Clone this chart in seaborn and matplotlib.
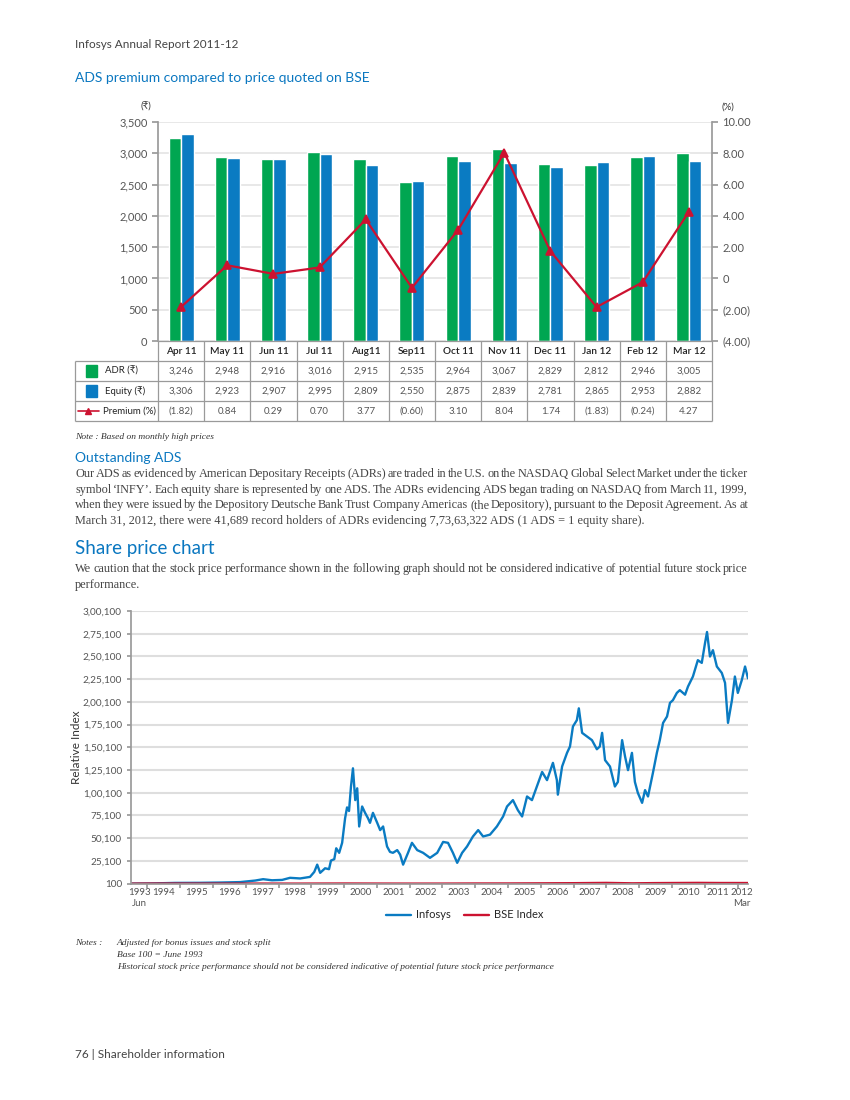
import matplotlib
matplotlib.use('Agg')
import matplotlib.pyplot as plt
import seaborn as sns
import pandas as pd
import numpy as np
from matplotlib.patches import Rectangle

# ADS premium table (monthly high prices)
months = ['Apr 11', 'May 11', 'Jun 11', 'Jul 11', 'Aug11', 'Sep11',
          'Oct 11', 'Nov 11', 'Dec 11', 'Jan 12', 'Feb 12', 'Mar 12']
adr = [3246, 2948, 2916, 3016, 2915, 2535, 2964, 3067, 2829, 2812, 2946, 3005]
equity = [3306, 2923, 2907, 2995, 2809, 2550, 2875, 2839, 2781, 2865, 2953, 2882]
premium = [-1.82, 0.84, 0.29, 0.70, 3.77, -0.60, 3.10, 8.04, 1.74, -1.83, -0.24, 4.27]

# share price chart (relative index, base 100 = June 1993)
infy_year = [1993.51, 1994.09, 1994.85, 1995.61, 1996.22, 1996.83, 1997.29, 1997.53, 1997.80,
             1998.11, 1998.35, 1998.66, 1998.96, 1999.09, 1999.18, 1999.27, 1999.42, 1999.54,
             1999.60, 1999.70, 1999.76, 1999.85, 1999.94, 2000.03, 2000.09, 2000.15, 2000.21,
             2000.27, 2000.34, 2000.40, 2000.46, 2000.55, 2000.64, 2000.73, 2000.79, 2000.88,
             2001.01, 2001.10, 2001.19, 2001.31, 2001.40, 2001.49, 2001.62, 2001.71, 2001.80,
             2001.95, 2002.07, 2002.23, 2002.41, 2002.62, 2002.84, 2003.02, 2003.17, 2003.32,
             2003.45, 2003.60, 2003.75, 2003.93, 2004.09, 2004.24, 2004.45, 2004.66, 2004.85,
             2004.97, 2005.15, 2005.30, 2005.43, 2005.58, 2005.73, 2005.88, 2006.04, 2006.19,
             2006.37, 2006.49, 2006.52, 2006.65, 2006.80, 2006.89, 2006.98, 2007.10, 2007.16,
             2007.26, 2007.41, 2007.56, 2007.71, 2007.80, 2007.87, 2007.96, 2008.11, 2008.26,
             2008.35, 2008.48, 2008.57, 2008.66, 2008.78, 2008.87, 2008.96, 2009.09, 2009.18,
             2009.27, 2009.42, 2009.54, 2009.63, 2009.73, 2009.85, 2009.94, 2010.03, 2010.15,
             2010.24, 2010.40, 2010.49, 2010.64, 2010.79, 2010.91, 2011.01, 2011.07, 2011.16,
             2011.25, 2011.37, 2011.52, 2011.62, 2011.71, 2011.83, 2011.92, 2012.01, 2012.13,
             2012.23, 2012.32]
infy_index = [100, 300, 900, 1000, 1300, 1800, 3500, 5000, 3800,
              4200, 6500, 5800, 7500, 13000, 21000, 12000, 17000, 16000,
              25500, 27000, 39000, 34000, 45000, 72000, 84000, 80000, 107000,
              127000, 92000, 105000, 63000, 85000, 78000, 72000, 67000, 78000,
              67000, 59000, 63000, 41000, 35000, 34000, 37000, 32000, 21000,
              34000, 45000, 37000, 34000, 28500, 34000, 46000, 45000, 34000,
              23000, 34000, 41000, 52000, 59000, 52000, 54000, 63000, 74000,
              85000, 92000, 81000, 74000, 96000, 92000, 107000, 123000, 114000,
              133000, 114000, 98000, 129000, 144000, 151000, 173000, 180000, 193000,
              166000, 162000, 158000, 148000, 151000, 166000, 136000, 129000, 107000,
              112000, 158000, 140000, 125000, 144000, 112000, 100000, 89000, 103000,
              96000, 122000, 144000, 158000, 177000, 184000, 199000, 202000, 210000,
              213000, 208000, 217000, 228000, 246000, 243000, 265000, 277000, 250000,
              257000, 239000, 232000, 221000, 177000, 202000, 228000, 210000, 224000,
              239000, 226000]
bse_year = [1993.51, 1994.0, 1994.7, 1995.5, 1996.5, 1997.5, 1998.5, 1999.5, 2000.1, 2001.0,
            2002.0, 2003.0, 2004.0, 2005.0, 2006.0, 2007.0, 2008.0, 2008.8, 2009.5, 2010.8,
            2011.5, 2012.32]
bse_index = [100, 170, 200, 150, 150, 180, 140, 210, 260, 180,
             150, 160, 270, 290, 430, 600, 930, 440, 700, 940,
             800, 790]

year_labels = ['1993\nJun'] + [str(y) for y in range(1994, 2012)] + ['2012\nMar']

GREEN = '#00a651'
BLUE = '#0a7bc2'
RED = '#cc1230'
HEAD = '#0a77c0'
GREY = '#555555'
LINE = '#9a9a9a'
W, H = 850, 1100

sns.set_theme(style='white')
plt.rcParams['font.family'] = ['Lato', 'DejaVu Sans']
SERIF = ['Liberation Serif', 'DejaVu Serif']


def box(l, t, r, b):
    return [l / W, 1 - b / H, (r - l) / W, (b - t) / H]


def put(x, y, s, **kw):
    return fig.text(x / W, 1 - y / H, s, **kw)


def indian(v):
    s = str(int(v))
    if len(s) <= 3:
        return s
    head, tail = s[:-3], s[-3:]
    parts = []
    while len(head) > 2:
        parts.insert(0, head[-2:])
        head = head[:-2]
    parts.insert(0, head)
    return ','.join(parts) + ',' + tail


def pct(v):
    if v == 0:
        return '0'
    return f'{v:.2f}' if v > 0 else f'({-v:.2f})'


def justified(lines, x0, x1, y0, step, **kw):
    r = fig.canvas.get_renderer()
    for n, line in enumerate(lines):
        y = y0 + n * step
        if n == len(lines) - 1:
            put(x0, y, line, va='center', **kw)
            continue
        words = line.split(' ')
        arts = [put(0, y, w, va='center', **kw) for w in words]
        widths = [a.get_window_extent(r).width for a in arts]
        gap = (x1 - x0 - sum(widths)) / (len(words) - 1)
        x = x0
        for a, wd in zip(arts, widths):
            a.set_x(x / W)
            x += wd + gap


fig = plt.figure(figsize=(8.5, 11), dpi=100)

# page texts
put(75, 45, 'Infosys Annual Report 2011-12', fontsize=8.5, color='#444', va='center')
put(75, 78, 'ADS premium compared to price quoted on BSE', fontsize=10, color=HEAD, va='center')
put(151, 107, '(₹)', fontsize=7, color='#333', va='center', ha='right')
put(722, 107, '(%)', fontsize=7, color='#333', va='center')

# bar chart with premium line
ax = fig.add_axes(box(158, 122, 712, 341))
df_bar = pd.DataFrame({'month': months * 2, 'value': adr + equity,
                       'series': ['ADR'] * len(adr) + ['Equity'] * len(equity)})
sns.barplot(data=df_bar, x='month', y='value', hue='series', palette=[GREEN, BLUE],
            width=0.54, gap=0, saturation=1, legend=False, ax=ax)
ax.set_xlim(-0.5, len(months) - 0.5)
ax.set_ylim(0, 3500)
ax.set_yticks(range(0, 3501, 500))
ax.set_yticklabels([f'{v:,}' for v in range(0, 3501, 500)])
ax.yaxis.grid(True, color='#e4e4e4', lw=1.2)
ax.set_axisbelow(True)
ax.set_xlabel('')
ax.set_ylabel('')
ax.tick_params(axis='x', bottom=False, labelbottom=False)
ax.tick_params(axis='y', left=True, length=4, color=LINE, labelcolor=GREY, labelsize=8)
for s in ['top', 'right', 'bottom']:
    ax.spines[s].set_visible(False)
ax.spines['left'].set_color(LINE)

ax2 = ax.twinx()
sns.pointplot(x=months, y=premium, color=RED, markers='^', markersize=6, linewidth=1.6,
              errorbar=None, ax=ax2)
ax2.set_xlim(-0.5, len(months) - 0.5)
ax2.set_ylim(-4, 10)
ax2.set_yticks(range(-4, 11, 2))
ax2.set_yticklabels([pct(v) for v in range(-4, 11, 2)])
ax2.tick_params(axis='y', right=True, length=4, color=LINE, labelcolor=GREY, labelsize=8)
ax2.tick_params(axis='x', bottom=False, labelbottom=False)
for s in ['top', 'left', 'bottom']:
    ax2.spines[s].set_visible(False)
ax2.spines['right'].set_color(LINE)
ax2.set_ylabel('')

# data table under the bars
tab = fig.add_axes(box(75, 341, 712, 421))
tab.set_xlim(-2.3, len(months) - 0.5)
tab.set_ylim(4, 0)
tab.axis('off')
n = len(months)
tab.hlines(0, -0.5, n - 0.5, color=LINE, lw=0.9, clip_on=False)
tab.hlines([1, 2, 3, 4], -2.3, n - 0.5, color=LINE, lw=0.9, clip_on=False)
tab.vlines(-2.3, 1, 4, color=LINE, lw=0.9, clip_on=False)
tab.vlines(np.arange(n + 1) - 0.5, 0, 4, color=LINE, lw=0.9, clip_on=False)
for i, m in enumerate(months):
    tab.text(i, 0.5, m, ha='center', va='center', fontsize=7.3, color='#222', weight='semibold')
rows = [('ADR (₹)', [f'{v:,}' for v in adr]),
        ('Equity (₹)', [f'{v:,}' for v in equity]),
        ('Premium (%)', [pct(v) for v in premium])]
for r, (label, vals) in enumerate(rows):
    tab.text(-1.65 if r < 2 else -1.7, r + 1.5, label, ha='left', va='center',
             fontsize=6.9, color='#222')
    for i, v in enumerate(vals):
        tab.text(i, r + 1.5, v, ha='center', va='center', fontsize=7, color=GREY)
tab.add_patch(Rectangle((-2.06, 1.22), 0.24, 0.56, color=GREEN, clip_on=False))
tab.add_patch(Rectangle((-2.06, 2.22), 0.24, 0.56, color=BLUE, clip_on=False))
tab.plot([-2.24, -1.78], [3.5, 3.5], color=RED, lw=1.2, clip_on=False)
tab.plot([-2.01], [3.5], marker='^', color=RED, ms=5, clip_on=False)

put(75, 437, 'Note : Based on monthly high prices', fontsize=6.8, color='#333',
    style='italic', family=SERIF, va='center')
put(75, 458, 'Outstanding ADS', fontsize=10, color=HEAD, va='center')

para = ['Our ADS as evidenced by American Depositary Receipts (ADRs) are traded in the U.S. on the NASDAQ Global Select Market under the ticker',
        'symbol \u2018INFY\u2019. Each equity share is represented by one ADS. The ADRs evidencing ADS began trading on NASDAQ from March 11, 1999,',
        'when they were issued by the Depository Deutsche Bank Trust Company Americas (the Depository), pursuant to the Deposit Agreement. As at',
        'March 31, 2012, there were 41,689 record holders of ADRs evidencing 7,73,63,322 ADS (1 ADS = 1 equity share).']
justified(para, 75, 748, 474, 15.7, fontsize=8.8, color='#444', family=SERIF)

put(75, 549, 'Share price chart', fontsize=13.5, color=HEAD, va='center')
caution = ['We caution that the stock price performance shown in the following graph should not be considered indicative of potential future stock price',
           'performance.']
justified(caution, 75, 748, 569, 15.7, fontsize=8.8, color='#444', family=SERIF)

# share price line chart
ax3 = fig.add_axes(box(131, 611, 748, 884))
df_line = pd.DataFrame({'year': infy_year + bse_year,
                        'index': infy_index + bse_index,
                        'series': ['Infosys'] * len(infy_year) + ['BSE Index'] * len(bse_year)})
sns.lineplot(data=df_line, x='year', y='index', hue='series',
             palette={'Infosys': BLUE, 'BSE Index': RED}, estimator=None, sort=False,
             lw=1.7, ax=ax3)
ax3.set_xlim(1993.5, 2012.32)
ax3.set_ylim(-300, 300100)
yt = list(range(100, 300101, 25000))
ax3.set_yticks(yt)
ax3.set_yticklabels([indian(v) for v in yt])
ax3.set_xticks(range(1994, 2013))
ax3.set_xticklabels([])
ax3.set_xticks([1993.75] + [y + 0.5 for y in range(1994, 2011)] + [2011.4, 2012.12], minor=True)
ax3.set_xticklabels(year_labels, minor=True)
ax3.tick_params(axis='x', which='major', bottom=True, length=3, color=LINE)
ax3.tick_params(axis='x', which='minor', bottom=True, length=0, labelsize=7,
                labelcolor=GREY, pad=3)
ax3.tick_params(axis='y', left=True, length=3, color=LINE, labelcolor=GREY, labelsize=7.2)
ax3.yaxis.grid(True, color='#dedede', lw=1.5)
ax3.set_axisbelow(True)
for s in ['top', 'right']:
    ax3.spines[s].set_visible(False)
ax3.spines['left'].set_color(LINE)
ax3.spines['bottom'].set_color(LINE)
ax3.set_xlabel('')
ax3.set_ylabel('Relative Index', fontsize=8.5, color='#333')
ax3.yaxis.set_label_coords((82 - 131) / 617, 0.5)
handles, labels = ax3.get_legend_handles_labels()
ax3.legend(handles, labels, ncol=2, frameon=False, loc='center',
           bbox_to_anchor=((465 - 131) / 617, (884 - 915) / 273),
           fontsize=8, handlelength=2.2, columnspacing=1.2, handletextpad=0.5)

put(75, 943, 'Notes :', fontsize=6.8, color='#333', style='italic', family=SERIF, va='center')
notes = ['Adjusted for bonus issues and stock split', 'Base 100 = June 1993',
         'Historical stock price performance should not be considered indicative of potential future stock price performance']
for k, line in enumerate(notes):
    put(117, 943 + 12 * k, line, fontsize=6.8, color='#333', style='italic', family=SERIF,
        va='center')

put(75, 1055, '76 | Shareholder information', fontsize=8.5, color='#444', va='center')

fig.savefig('out.png', dpi=100)
